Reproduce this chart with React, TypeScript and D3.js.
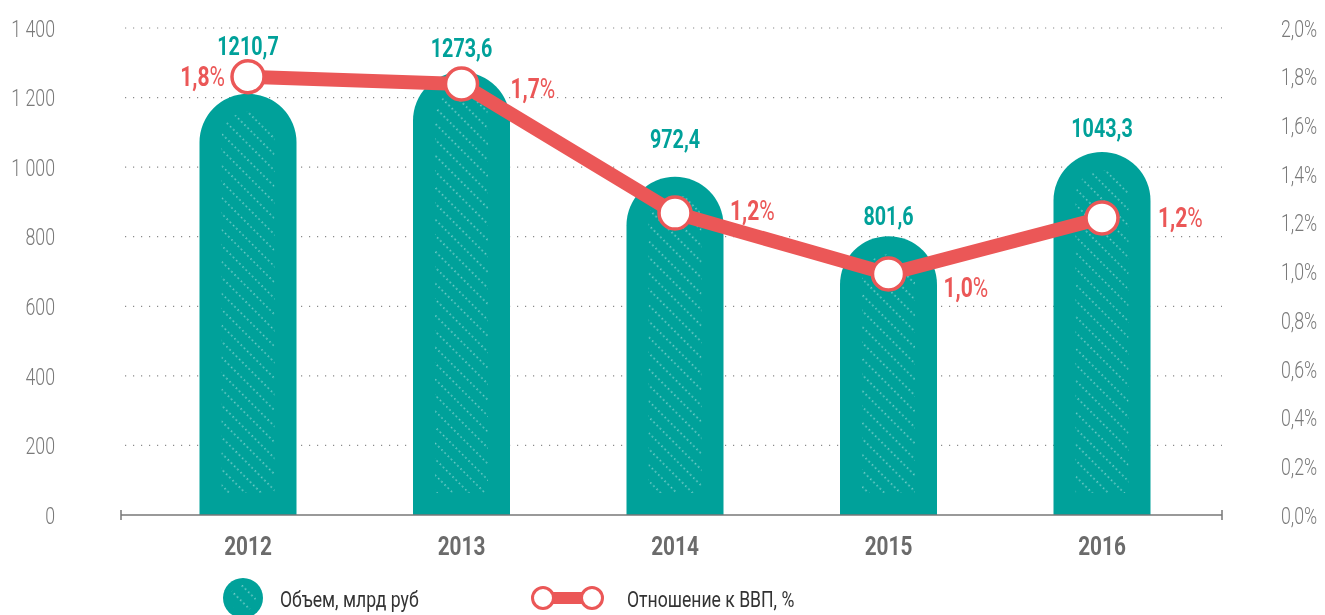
import * as d3 from "d3";

const years = ["2012", "2013", "2014", "2015", "2016"];
const volume = [1210.7, 1273.6, 972.4, 801.6, 1043.3];
const volumeLabels = ["1210,7", "1273,6", "972,4", "801,6", "1043,3"];
const gdpShare = [1.8, 1.77, 1.24, 0.99, 1.22];
const gdpLabels = ["1,8", "1,7", "1,2", "1,0", "1,2"];
const leftTicks = [0, 200, 400, 600, 800, 1000, 1200, 1400];
const rightTicks = [0, 0.2, 0.4, 0.6, 0.8, 1.0, 1.2, 1.4, 1.6, 1.8, 2.0];

const W = 1325;
const H = 615;
const TEAL = "#00a19a";
const RED = "#eb5757";
const FONT = "Roboto, 'DejaVu Sans', sans-serif";

// label placement tweaks (value label lifted where the line circle is in the way)
const valueDy = [-39, -15, -29, -11, -15];
const pctSide = ["left", "right", "right", "right", "right"];
const pctDx = [-23, 49, 55, 55, 56];
const pctDy = [0, 4, -3, 13, -1];

// condensed text: the installed fonts are wide, so squeeze horizontally
function CText(props: {
  x: number;
  y: number;
  sx?: number;
  anchor?: "start" | "middle" | "end";
  size: number;
  weight?: number;
  fill: string;
  dy?: string;
  children: React.ReactNode;
}) {
  const { x, y, sx = 0.76, anchor = "start", size, weight = 400, fill, dy, children } = props;
  return (
    <text
      transform={`translate(${x},${y}) scale(${sx},1)`}
      textAnchor={anchor}
      fontSize={size}
      fontWeight={weight}
      fill={fill}
      dy={dy}
    >
      {children}
    </text>
  );
}

export default function App() {
  const x = d3.scalePoint<string>().domain(years).range([248, 1102]);
  const y = d3.scaleLinear().domain([0, 1400]).range([515, 28]);
  const y2 = d3.scaleLinear().domain([0, 2]).range([515, 28]);
  const barW = 97;
  const r = barW / 2;
  const inset = 22;

  const line = d3
    .line<number>()
    .x((_, i) => x(years[i])!)
    .y((d) => y2(d));

  const domePath = (cx: number, top: number, bottom: number, rad: number) => {
    const p = d3.path();
    p.moveTo(cx - rad, bottom);
    p.lineTo(cx - rad, top + rad);
    p.arc(cx, top + rad, rad, Math.PI, 0);
    p.lineTo(cx + rad, bottom);
    p.closePath();
    return p.toString();
  };

  const fmtPct = (v: number) => d3.format(".1f")(v).replace(".", ",") + "%";
  const fmtNum = (v: number) => (v >= 1000 ? `${Math.floor(v / 1000)} ${String(v % 1000).padStart(3, "0")}` : String(v));

  return (
    <div style={{ position: "fixed", left: 0, top: 0, width: W, height: H, overflow: "hidden" }}>
      <svg width={W} height={H} style={{ display: "block", fontFamily: FONT }}>
        <defs>
          <pattern id="hatch" width="9" height="11.3" patternUnits="userSpaceOnUse" patternTransform="rotate(45)">
            <line x1="0" y1="5.6" x2="9" y2="5.6" stroke="#fff" strokeOpacity={0.6} strokeWidth={1.3} strokeDasharray="1.3,3.2" />
          </pattern>
          <clipPath id="legclip">
            <circle cx={243} cy={598} r={13} />
          </clipPath>
        </defs>

        {/* grid */}
        {leftTicks.slice(1).map((t) => (
          <line key={t} x1={125} x2={1222} y1={y(t)} y2={y(t)} stroke="#8a8a8a" strokeWidth={1.2} strokeDasharray="1.2,6.8" />
        ))}

        {/* left axis labels */}
        {leftTicks.map((t) => (
          <CText key={t} x={55} y={y(t)} dy="0.36em" anchor="end" size={24} weight={300} fill="#7a7a7a" sx={0.74}>
            {fmtNum(t)}
          </CText>
        ))}

        {/* right axis labels */}
        {rightTicks.map((t) => (
          <CText key={t} x={1281} y={y2(t)} dy="0.36em" size={24} weight={300} fill="#7a7a7a" sx={0.74}>
            {fmtPct(t)}
          </CText>
        ))}

        {/* bars */}
        {volume.map((v, i) => {
          const cx = x(years[i])!;
          const top = y(v);
          return (
            <g key={years[i]}>
              <path d={domePath(cx, top, y(0), r)} fill={TEAL} />
              <path d={domePath(cx, top + 18, y(0) - 22, r - inset)} fill="url(#hatch)" />
            </g>
          );
        })}

        {/* bottom axis */}
        <line x1={121} x2={1222} y1={515} y2={515} stroke="#777" strokeWidth={1.3} />
        <line x1={121} x2={121} y1={510} y2={520} stroke="#777" strokeWidth={1.5} />
        <line x1={1222} x2={1222} y1={510} y2={520} stroke="#777" strokeWidth={1.5} />

        {/* year labels */}
        {years.map((yr) => (
          <CText key={yr} x={x(yr)!} y={546} dy="0.36em" anchor="middle" size={26} weight={700} fill="#6b6b6b" sx={0.8}>
            {yr}
          </CText>
        ))}

        {/* line */}
        <path d={line(gdpShare)!} fill="none" stroke={RED} strokeWidth={14} strokeLinejoin="round" />
        {gdpShare.map((v, i) => (
          <circle key={i} cx={x(years[i])} cy={y2(v)} r={16} fill="#fff" stroke={RED} strokeWidth={3.5} />
        ))}

        {/* value labels */}
        {volume.map((v, i) => (
          <CText key={i} x={x(years[i])!} y={y(v) + valueDy[i]} anchor="middle" size={26} weight={700} fill={TEAL} sx={0.76}>
            {volumeLabels[i]}
          </CText>
        ))}

        {/* percent labels */}
        {gdpShare.map((v, i) => {
          const cx = x(years[i])!;
          const left = pctSide[i] === "left";
          return (
            <CText
              key={i}
              x={cx + pctDx[i]}
              y={y2(v) + pctDy[i]}
              dy="0.36em"
              anchor={left ? "end" : "start"}
              size={27}
              weight={700}
              fill={RED}
              sx={0.78}
            >
              {gdpLabels[i]}
              <tspan fontWeight={400}>%</tspan>
            </CText>
          );
        })}

        {/* legend */}
        <circle cx={243} cy={598} r={20} fill={TEAL} />
        <rect x={223} y={578} width={40} height={40} fill="url(#hatch)" clipPath="url(#legclip)" />
        <CText x={280} y={599} dy="0.36em" size={22} fill="#333" sx={0.8}>
          Объем, млрд руб
        </CText>
        <line x1={543} x2={592} y1={598} y2={598} stroke={RED} strokeWidth={12} />
        <circle cx={543} cy={598} r={10.5} fill="#fff" stroke={RED} strokeWidth={3} />
        <circle cx={592} cy={598} r={10.5} fill="#fff" stroke={RED} strokeWidth={3} />
        <CText x={627} y={599} dy="0.36em" size={22} fill="#333" sx={0.8}>
          Отношение к ВВП, %
        </CText>
      </svg>
    </div>
  );
}
